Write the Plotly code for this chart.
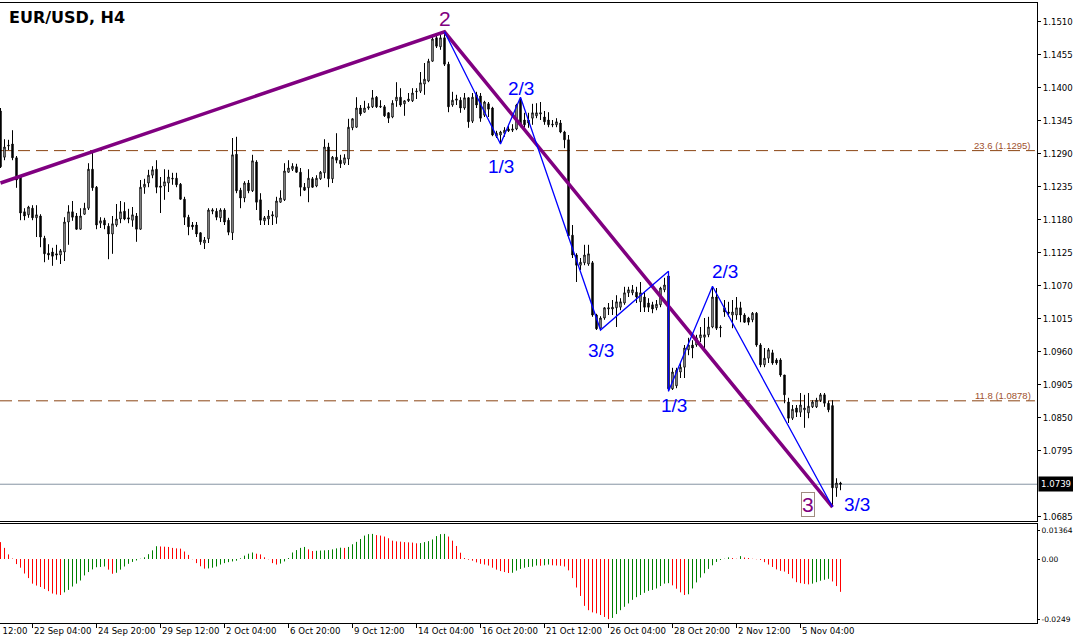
import plotly.graph_objects as go

# ---------------- data (EUR/USD H4 candles, bar index 0..210) ----------------
bars = list(range(211))

open_ = [
    1.1361, 1.1284, 1.1304, 1.1306, 1.1283, 1.1251, 1.1193, 1.1188, 1.1199, 1.1183,
    1.1186, 1.1149, 1.1124, 1.1126, 1.1123, 1.1121, 1.1126, 1.1176, 1.1193, 1.1186,
    1.1164, 1.1189, 1.1199, 1.1264, 1.1234, 1.1174, 1.1179, 1.1169, 1.1156, 1.1171,
    1.1181, 1.1194, 1.1183, 1.1179, 1.1186, 1.1164, 1.1234, 1.1241, 1.1254, 1.1264,
    1.1236, 1.1236, 1.1241, 1.1249, 1.1249, 1.1239, 1.1214, 1.1184, 1.1171, 1.1171,
    1.1158, 1.1141, 1.1148, 1.1194, 1.1194, 1.1183, 1.1196, 1.1179, 1.1158, 1.1289,
    1.1229, 1.1216, 1.1241, 1.1228, 1.1276, 1.1213, 1.1178, 1.1181, 1.1186, 1.1184,
    1.1209, 1.1213, 1.1259, 1.1264, 1.1268, 1.1259, 1.1234, 1.1233, 1.1248, 1.1236,
    1.1248, 1.1258, 1.1301, 1.1248, 1.1284, 1.1279, 1.1274, 1.1281, 1.1333, 1.1334,
    1.1366, 1.1359, 1.1366, 1.1368, 1.1384, 1.1369, 1.1368, 1.1358, 1.1351, 1.1378,
    1.1384, 1.1373, 1.1378, 1.1378, 1.1393, 1.1394, 1.1406, 1.1411, 1.1444, 1.1483,
    1.1468, 1.1483, 1.1439, 1.1371, 1.1379, 1.1379, 1.1366, 1.1383, 1.1344, 1.1388,
    1.1386, 1.1354, 1.1373, 1.1366, 1.1319, 1.1321, 1.1324, 1.1331, 1.1329, 1.1331,
    1.1381, 1.1346, 1.1346, 1.1349, 1.1353, 1.1356, 1.1351, 1.1346, 1.1339, 1.1338,
    1.1341, 1.1326, 1.1313, 1.1154, 1.1121, 1.1104, 1.1108, 1.1106, 1.1108, 1.1021,
    1.0999, 1.1016, 1.1031, 1.1031, 1.1033, 1.1034, 1.1041, 1.1058, 1.1058, 1.1059,
    1.1043, 1.1051, 1.1041, 1.1038, 1.1033, 1.1038, 1.1063, 1.1086, 1.0898, 1.0903,
    1.0926, 1.0934, 1.0963, 1.0971, 1.0971, 1.0983, 1.0984, 1.0988, 1.1001, 1.1051,
    1.1001, 1.1033, 1.1026, 1.1021, 1.1021, 1.1033, 1.1021, 1.1016, 1.1013, 1.1024,
    1.0971, 1.0938, 1.0949, 1.0958, 1.0946, 1.0946, 1.0921, 1.0876, 1.0849, 1.0866,
    1.0859, 1.0863, 1.0858, 1.0868, 1.0868, 1.0879, 1.0888, 1.0874, 1.0870, 1.0733,
    1.0741,
]

high_ = [
    1.1366, 1.1314, 1.1313, 1.1329, 1.1286, 1.1254, 1.1199, 1.1203, 1.1204, 1.1204,
    1.1189, 1.1153, 1.1139, 1.1133, 1.1138, 1.1131, 1.1184, 1.1204, 1.1211, 1.1191,
    1.1199, 1.1208, 1.1274, 1.1294, 1.1236, 1.1184, 1.1183, 1.1174, 1.1186, 1.1206,
    1.1211, 1.1209, 1.1198, 1.1201, 1.1191, 1.1246, 1.1248, 1.1263, 1.1269, 1.1279,
    1.1251, 1.1264, 1.1263, 1.1258, 1.1258, 1.1241, 1.1218, 1.1188, 1.1176, 1.1176,
    1.1159, 1.1151, 1.1199, 1.1199, 1.1199, 1.1199, 1.1199, 1.1183, 1.1316, 1.1318,
    1.1233, 1.1244, 1.1246, 1.1288, 1.1279, 1.1224, 1.1186, 1.1196, 1.1194, 1.1218,
    1.1229, 1.1274, 1.1279, 1.1274, 1.1273, 1.1266, 1.1241, 1.1264, 1.1251, 1.1254,
    1.1261, 1.1314, 1.1308, 1.1286, 1.1324, 1.1288, 1.1289, 1.1348, 1.1349, 1.1384,
    1.1371, 1.1378, 1.1374, 1.1396, 1.1386, 1.1379, 1.1371, 1.1359, 1.1379, 1.1409,
    1.1399, 1.1379, 1.1391, 1.1399, 1.1399, 1.1426, 1.1441, 1.1448, 1.1488, 1.1486,
    1.1489, 1.1493, 1.1443, 1.1393, 1.1388, 1.1384, 1.1391, 1.1384, 1.1391, 1.1393,
    1.1391, 1.1378, 1.1376, 1.1368, 1.1328, 1.1328, 1.1334, 1.1338, 1.1339, 1.1373,
    1.1384, 1.1358, 1.1358, 1.1373, 1.1374, 1.1376, 1.1361, 1.1359, 1.1346, 1.1349,
    1.1346, 1.1328, 1.1321, 1.1171, 1.1124, 1.1116, 1.1138, 1.1138, 1.1111, 1.1023,
    1.1019, 1.1034, 1.1041, 1.1046, 1.1054, 1.1049, 1.1068, 1.1068, 1.1071, 1.1068,
    1.1076, 1.1059, 1.1049, 1.1043, 1.1046, 1.1068, 1.1083, 1.1094, 1.0933, 1.0933,
    1.0943, 1.0971, 1.0983, 1.0979, 1.0988, 1.1001, 1.1016, 1.1018, 1.1069, 1.1066,
    1.1004, 1.1046, 1.1043, 1.1046, 1.1051, 1.1043, 1.1024, 1.1018, 1.1026, 1.1026,
    1.0974, 1.0966, 1.0966, 1.0963, 1.0949, 1.0949, 1.0921, 1.0883, 1.0871, 1.0871,
    1.0891, 1.0888, 1.0891, 1.0879, 1.0883, 1.0891, 1.0891, 1.0878, 1.0879, 1.0749,
    1.0743,
]

low_ = [
    1.1266, 1.1279, 1.1296, 1.1279, 1.1233, 1.1179, 1.1179, 1.1183, 1.1179, 1.1151,
    1.1134, 1.1109, 1.1113, 1.1103, 1.1113, 1.1106, 1.1111, 1.1138, 1.1178, 1.1163,
    1.1163, 1.1188, 1.1196, 1.1228, 1.1164, 1.1166, 1.1164, 1.1114, 1.1123, 1.1168,
    1.1174, 1.1179, 1.1174, 1.1168, 1.1143, 1.1163, 1.1223, 1.1234, 1.1249, 1.1224,
    1.1191, 1.1213, 1.1226, 1.1238, 1.1234, 1.1213, 1.1171, 1.1154, 1.1163, 1.1151,
    1.1138, 1.1131, 1.1141, 1.1189, 1.1179, 1.1176, 1.1171, 1.1154, 1.1146, 1.1224,
    1.1199, 1.1209, 1.1224, 1.1226, 1.1196, 1.1171, 1.1171, 1.1171, 1.1171, 1.1173,
    1.1208, 1.1211, 1.1258, 1.1261, 1.1258, 1.1219, 1.1228, 1.1209, 1.1233, 1.1234,
    1.1246, 1.1249, 1.1234, 1.1241, 1.1274, 1.1266, 1.1271, 1.1271, 1.1329, 1.1333,
    1.1353, 1.1358, 1.1363, 1.1366, 1.1366, 1.1366, 1.1351, 1.1341, 1.1349, 1.1368,
    1.1368, 1.1353, 1.1376, 1.1376, 1.1381, 1.1391, 1.1388, 1.1409, 1.1443, 1.1466,
    1.1463, 1.1436, 1.1359, 1.1368, 1.1371, 1.1358, 1.1363, 1.1333, 1.1341, 1.1366,
    1.1343, 1.1351, 1.1351, 1.1319, 1.1316, 1.1306, 1.1318, 1.1326, 1.1326, 1.1329,
    1.1334, 1.1333, 1.1333, 1.1338, 1.1349, 1.1346, 1.1338, 1.1334, 1.1334, 1.1334,
    1.1324, 1.1299, 1.1149, 1.1116, 1.1076, 1.1096, 1.1104, 1.1103, 1.1018, 1.0996,
    1.0996, 1.1013, 1.1021, 1.1021, 1.1001, 1.1029, 1.1038, 1.1051, 1.1054, 1.1041,
    1.1026, 1.1026, 1.1026, 1.1024, 1.1029, 1.1034, 1.1059, 1.0894, 1.0896, 1.0899,
    1.0916, 1.0916, 1.0954, 1.0949, 1.0968, 1.0976, 1.0966, 1.0984, 1.0999, 1.0996,
    1.0984, 1.1018, 1.1018, 1.0999, 1.1013, 1.1009, 1.1008, 1.1004, 1.1009, 1.0968,
    1.0934, 1.0934, 1.0941, 1.0938, 1.0938, 1.0918, 1.0874, 1.0841, 1.0846, 1.0851,
    1.0851, 1.0833, 1.0849, 1.0866, 1.0866, 1.0876, 1.0868, 1.0859, 1.0701, 1.0718,
    1.0729,
]

close_ = [
    1.1268, 1.1301, 1.1303, 1.1283, 1.1246, 1.1191, 1.1186, 1.1201, 1.1183, 1.1188,
    1.1151, 1.1123, 1.1121, 1.1119, 1.1121, 1.1128, 1.1176, 1.1193, 1.1184, 1.1164,
    1.1186, 1.1199, 1.1264, 1.1233, 1.1171, 1.1178, 1.1171, 1.1156, 1.1173, 1.1181,
    1.1193, 1.1181, 1.1181, 1.1188, 1.1164, 1.1234, 1.1239, 1.1254, 1.1263, 1.1234,
    1.1234, 1.1243, 1.1251, 1.1248, 1.1238, 1.1214, 1.1184, 1.1168, 1.1168, 1.1156,
    1.1143, 1.1146, 1.1196, 1.1196, 1.1184, 1.1196, 1.1176, 1.1159, 1.1288, 1.1228,
    1.1216, 1.1241, 1.1228, 1.1278, 1.1209, 1.1179, 1.1183, 1.1186, 1.1188, 1.1211,
    1.1216, 1.1261, 1.1266, 1.1269, 1.1259, 1.1234, 1.1229, 1.1249, 1.1234, 1.1249,
    1.1259, 1.1301, 1.1248, 1.1284, 1.1279, 1.1273, 1.1283, 1.1334, 1.1348, 1.1366,
    1.1356, 1.1366, 1.1368, 1.1383, 1.1368, 1.1368, 1.1353, 1.1349, 1.1374, 1.1384,
    1.1371, 1.1378, 1.1381, 1.1391, 1.1394, 1.1408, 1.1414, 1.1444, 1.1481, 1.1469,
    1.1483, 1.1439, 1.1368, 1.1379, 1.1381, 1.1366, 1.1383, 1.1343, 1.1384, 1.1371,
    1.1349, 1.1376, 1.1364, 1.1321, 1.1324, 1.1326, 1.1329, 1.1328, 1.1331, 1.1371,
    1.1338, 1.1338, 1.1341, 1.1358, 1.1358, 1.1358, 1.1343, 1.1338, 1.1338, 1.1343,
    1.1326, 1.1313, 1.1153, 1.1121, 1.1104, 1.1109, 1.1121, 1.1123, 1.1021, 1.0998,
    1.1016, 1.1033, 1.1033, 1.1034, 1.1043, 1.1043, 1.1058, 1.1063, 1.1063, 1.1051,
    1.1058, 1.1034, 1.1034, 1.1031, 1.1039, 1.1066, 1.1071, 1.0898, 1.0926, 1.0929,
    1.0934, 1.0966, 1.0971, 1.0966, 1.0983, 1.0988, 1.0988, 1.1001, 1.1051, 1.0999,
    1.1000, 1.1026, 1.1024, 1.1026, 1.1033, 1.1021, 1.1009, 1.1009, 1.1024, 1.0971,
    1.0938, 1.0949, 1.0963, 1.0941, 1.0941, 1.0921, 1.0888, 1.0849, 1.0864, 1.0859,
    1.0871, 1.0866, 1.0869, 1.0876, 1.0879, 1.0888, 1.0874, 1.0863, 1.0733, 1.0741,
    1.0739,
]

# oscillator histogram (lower window)
osc = [
    0.0070, 0.0046, 0.0019, 0.0002, -0.0021, -0.0036, -0.0060, -0.0079, -0.0102, -0.0110,
    -0.0116, -0.0124, -0.0133, -0.0143, -0.0147, -0.0149, -0.0138, -0.0128, -0.0114, -0.0102,
    -0.0089, -0.0068, -0.0054, -0.0043, -0.0034, -0.0033, -0.0031, -0.0044, -0.0061, -0.0057,
    -0.0044, -0.0031, -0.0020, -0.0012, -0.0006, 0.0001, 0.0007, 0.0020, 0.0036, 0.0053,
    0.0052, 0.0051, 0.0050, 0.0046, 0.0044, 0.0043, 0.0031, 0.0017, -0.0001, -0.0017,
    -0.0030, -0.0040, -0.0039, -0.0036, -0.0031, -0.0023, -0.0017, -0.0013, -0.0010, -0.0007,
    0.0003, 0.0014, 0.0022, 0.0027, 0.0022, 0.0019, 0.0007, -0.0001, -0.0017, -0.0023,
    -0.0019, -0.0010, 0.0004, 0.0027, 0.0037, 0.0046, 0.0050, 0.0040, 0.0033, 0.0034,
    0.0035, 0.0036, 0.0037, 0.0040, 0.0044, 0.0047, 0.0046, 0.0050, 0.0061, 0.0071,
    0.0083, 0.0097, 0.0103, 0.0104, 0.0099, 0.0097, 0.0093, 0.0086, 0.0076, 0.0073,
    0.0072, 0.0070, 0.0069, 0.0068, 0.0065, 0.0066, 0.0070, 0.0074, 0.0081, 0.0095,
    0.0103, 0.0104, 0.0093, 0.0076, 0.0054, 0.0026, 0.0004, -0.0003, -0.0007, -0.0014,
    -0.0020, -0.0023, -0.0027, -0.0036, -0.0044, -0.0050, -0.0054, -0.0058, -0.0057, -0.0048,
    -0.0041, -0.0036, -0.0033, -0.0032, -0.0027, -0.0028, -0.0026, -0.0023, -0.0026, -0.0027,
    -0.0028, -0.0031, -0.0047, -0.0079, -0.0118, -0.0153, -0.0194, -0.0212, -0.0221, -0.0225,
    -0.0232, -0.0240, -0.0249, -0.0244, -0.0228, -0.0212, -0.0198, -0.0184, -0.0169, -0.0158,
    -0.0149, -0.0140, -0.0132, -0.0128, -0.0122, -0.0112, -0.0102, -0.0100, -0.0109, -0.0123,
    -0.0138, -0.0149, -0.0146, -0.0122, -0.0097, -0.0077, -0.0059, -0.0041, -0.0026, -0.0012,
    -0.0004, 0.0001, 0.0007, 0.0004, 0.0001, 0.0012, 0.0006, 0.0004, 0.0001, -0.0001,
    -0.0004, -0.0013, -0.0023, -0.0033, -0.0043, -0.0049, -0.0052, -0.0062, -0.0080, -0.0096,
    -0.0100, -0.0103, -0.0105, -0.0102, -0.0096, -0.0090, -0.0086, -0.0082, -0.0093, -0.0112,
    -0.0136,
]

# time-axis labels (bar index where each label starts)
time_label_bars = [-8, 8, 24, 40, 56, 72, 88, 104, 120, 136, 152, 168, 184, 200]
time_labels = ["17 Sep 12:00", "22 Sep 04:00", "24 Sep 20:00", "29 Sep 12:00",
               "2 Oct 04:00", "6 Oct 20:00", "9 Oct 12:00", "14 Oct 04:00",
               "16 Oct 20:00", "21 Oct 12:00", "26 Oct 04:00", "28 Oct 20:00",
               "2 Nov 12:00", "5 Nov 04:00"]

price_ticks = [1.1510, 1.1455, 1.1400, 1.1345, 1.1290, 1.1235, 1.1180, 1.1125,
               1.1070, 1.1015, 1.0960, 1.0905, 1.0850, 1.0795, 1.0685]
osc_tick_labels = ["0.01364", "0.00", "-0.0249"]

# zigzag waves
major_x = [0, 111, 208]
major_y = [1.1241, 1.1493, 1.0701]
major_labels = ["", "2", "3"]
minor_x = [111, 125, 130, 150, 167, 167, 178, 208]
minor_y = [1.1493, 1.1306, 1.1384, 1.0996, 1.1094, 1.0894, 1.1069, 1.0701]
minor_labels = ["", "1/3", "2/3", "3/3", "", "1/3", "2/3", "3/3"]

fib_levels = [1.1295, 1.0878]
fib_texts = ["23.6 (1.1295)", "11.8 (1.0878)"]
last_price = 1.0739

# ---------------- layout geometry ----------------
W, H = 1073, 639
ML, MR, MT, MB = 0, 36, 3, 16
plot_w = W - ML - MR
plot_h = H - MT - MB
px_per_bar = 4.0
x_range = [-0.125, -0.125 + plot_w / px_per_bar]
main_domain = [(623 - 521) / plot_h, 1.0]
osc_domain = [0.0, (623 - 524) / plot_h]
price_range = [1.06777, 1.1541]
osc_range = [-0.0265, 0.0145]
osc_tickvals = [0.0117, 0.0, -0.0249]

AX_FONT = dict(family="DejaVu Sans", size=8.6, color="black")
OSC_FONT = dict(family="DejaVu Sans", size=7.5, color="black")

fig = go.Figure()

fig.add_trace(go.Candlestick(
    x=bars, open=open_, high=high_, low=low_, close=close_,
    increasing=dict(line=dict(color="black", width=1), fillcolor="white"),
    decreasing=dict(line=dict(color="black", width=1), fillcolor="black"),
    whiskerwidth=0, xaxis="x", yaxis="y", hoverinfo="skip",
))

fig.add_trace(go.Scatter(
    x=major_x, y=major_y, mode="lines",
    line=dict(color="#800080", width=3.5), xaxis="x", yaxis="y", hoverinfo="skip",
))
fig.add_trace(go.Scatter(
    x=minor_x, y=minor_y, mode="lines",
    line=dict(color="#0000FF", width=1.3), xaxis="x", yaxis="y", hoverinfo="skip",
))

# histogram as 1-px vertical strokes: green when rising, red when falling
seg = {"#008000": ([], []), "#FF0000": ([], [])}
for i, v in enumerate(osc):
    up = i > 0 and v > osc[i - 1]
    xs, ys = seg["#008000" if up else "#FF0000"]
    xs.extend([bars[i], bars[i], None])
    ys.extend([0.0, v, None])
for col, (xs, ys) in seg.items():
    fig.add_trace(go.Scatter(
        x=xs, y=ys, mode="lines", line=dict(color=col, width=1),
        connectgaps=False, xaxis="x2", yaxis="y2", hoverinfo="skip",
    ))

shapes = []
for lvl in fib_levels:
    shapes.append(dict(type="line", xref="x domain", x0=0, x1=0.998, yref="y",
                       y0=lvl, y1=lvl, layer="below",
                       line=dict(color="#8B4513", width=1, dash="12px,6px")))
shapes.append(dict(type="line", xref="x domain", x0=0, x1=1, yref="y",
                   y0=last_price, y1=last_price, layer="below",
                   line=dict(color="#8593A3", width=1)))

annotations = []
# title
annotations.append(dict(xref="paper", yref="paper", x=7 / plot_w, y=(623 - 17) / plot_h,
                        xanchor="left", yanchor="middle", showarrow=False,
                        text="<b>EUR/USD, H4</b>",
                        font=dict(family="DejaVu Sans", size=16, color="black")))
# fib labels
for lvl, txt in zip(fib_levels, fib_texts):
    annotations.append(dict(xref="paper", yref="y", x=1033 / plot_w, y=lvl,
                            xanchor="right", yanchor="bottom", yshift=-2, showarrow=False,
                            text=txt, font=dict(family="Liberation Sans", size=9.5, color="#A0522D")))
# last price box
annotations.append(dict(xref="paper", yref="y", x=1.0, y=last_price, xanchor="left",
                        yanchor="middle", xshift=1, showarrow=False, text="1.0739",
                        bgcolor="black", borderpad=2,
                        font=dict(family="DejaVu Sans", size=8.6, color="white")))
# wave labels
major_style = {1: dict(xs=0, ys=13, box=False), 2: dict(xs=-25, ys=2.5, box=True)}
for k, lab in enumerate(major_labels):
    if not lab:
        continue
    st = major_style[k]
    a = dict(xref="x", yref="y", x=major_x[k], y=major_y[k], xshift=st["xs"], yshift=st["ys"],
             xanchor="center", yanchor="middle", showarrow=False, text=lab,
             font=dict(family="Liberation Sans", size=21, color="#800080"))
    if st["box"]:
        a.update(bordercolor="#A08C80", borderwidth=1, borderpad=0)
    annotations.append(a)
minor_shift = {1: (0, -22), 2: (0, 9), 3: (0, -20), 5: (5, -14), 6: (12, 15), 7: (24, 2.5)}
for k, lab in enumerate(minor_labels):
    if not lab:
        continue
    xs, ys = minor_shift[k]
    annotations.append(dict(xref="x", yref="y", x=minor_x[k], y=minor_y[k], xshift=xs, yshift=ys,
                            xanchor="center", yanchor="middle", showarrow=False, text=lab,
                            font=dict(family="Liberation Sans", size=19, color="#0000FF")))
# time labels (left-aligned at their tick, like the terminal)
for b, txt in zip(time_label_bars, time_labels):
    fx = (b - x_range[0]) / (x_range[1] - x_range[0])
    annotations.append(dict(xref="paper", yref="paper", x=fx, y=(623 - 631) / plot_h,
                            xanchor="left", yanchor="middle", xshift=-1, showarrow=False,
                            text=txt, font=AX_FONT))

fig.update_layout(
    width=W, height=H, margin=dict(l=ML, r=MR, t=MT, b=MB, autoexpand=False),
    paper_bgcolor="white", plot_bgcolor="white", showlegend=False,
    hovermode=False, boxgap=0.5,
    shapes=shapes, annotations=annotations,
    xaxis=dict(domain=[0, 1], range=x_range, anchor="y", showline=True, mirror=True,
               linecolor="black", linewidth=1, showgrid=False, zeroline=False,
               showticklabels=False, ticks="", automargin=False,
               rangeslider=dict(visible=False)),
    yaxis=dict(domain=main_domain, range=price_range, anchor="x", side="right",
               showline=True, linecolor="black", linewidth=1, showgrid=False, zeroline=False,
               tickvals=price_ticks, tickformat=".4f", ticks="outside", ticklen=3,
               tickcolor="black", tickfont=AX_FONT, automargin=False),
    xaxis2=dict(domain=[0, 1], range=x_range, anchor="y2", showline=True, mirror=True,
                linecolor="black", linewidth=1, showgrid=False, zeroline=False,
                tickvals=time_label_bars, ticks="outside", ticklen=4, tickcolor="black",
                showticklabels=False, automargin=False),
    yaxis2=dict(domain=osc_domain, range=osc_range, anchor="x2", side="right",
                showline=True, linecolor="black", linewidth=1, showgrid=False, zeroline=False,
                tickvals=osc_tickvals, ticktext=osc_tick_labels, ticks="outside", ticklen=2,
                tickcolor="black", tickfont=OSC_FONT, automargin=False),
)

fig.write_html(
    "out.html",
    config={"displayModeBar": False, "staticPlot": True},
    post_script="document.body.style.margin='0px';document.body.style.overflow='hidden';",
)
